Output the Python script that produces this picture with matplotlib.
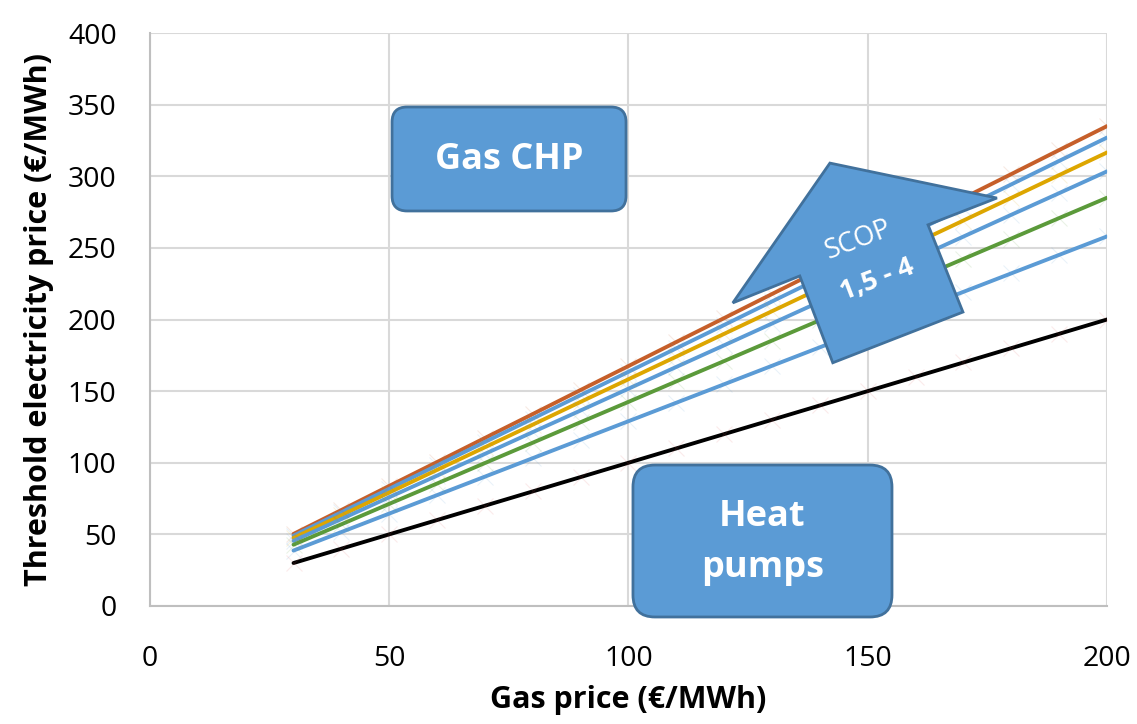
import matplotlib
matplotlib.use("Agg")
import matplotlib.pyplot as plt
from matplotlib.patches import FancyBboxPatch, Polygon

plt.rcParams['font.family'] = ['Open Sans', 'DejaVu Sans']

gas_price = [30, 40, 50, 60, 70, 80, 90, 100, 110, 120, 130, 140, 150, 160, 170, 180, 190, 200]

# threshold electricity price per series
hp_ref = [30, 40, 50, 60, 70, 80, 90, 100, 110, 120, 130, 140, 150, 160, 170, 180, 190, 200]
scop_a = [38.7, 51.6, 64.5, 77.4, 90.3, 103.2, 116.1, 129.0, 141.9, 154.8, 167.7, 180.6, 193.5, 206.4, 219.3, 232.2, 245.1, 258.0]
scop_b = [42.8, 57.0, 71.3, 85.5, 99.8, 114.0, 128.3, 142.5, 156.8, 171.0, 185.3, 199.5, 213.8, 228.0, 242.3, 256.5, 270.8, 285.0]
scop_c = [45.5, 60.7, 75.9, 91.0, 106.2, 121.4, 136.5, 151.7, 166.9, 182.0, 197.2, 212.4, 227.6, 242.7, 257.9, 273.1, 288.2, 303.4]
scop_d = [47.5, 63.3, 79.2, 95.0, 110.8, 126.6, 142.5, 158.3, 174.1, 190.0, 205.8, 221.6, 237.5, 253.3, 269.1, 284.9, 300.8, 316.6]
scop_e = [49.1, 65.4, 81.8, 98.1, 114.5, 130.8, 147.2, 163.5, 179.9, 196.2, 212.6, 228.9, 245.3, 261.6, 278.0, 294.3, 310.7, 327.0]
scop_f = [50.3, 67.0, 83.8, 100.5, 117.3, 134.0, 150.8, 167.5, 184.3, 201.0, 217.8, 234.5, 251.3, 268.0, 284.8, 301.5, 318.3, 335.0]

series = [scop_f, scop_e, scop_d, scop_c, scop_b, scop_a, hp_ref]
colors = ['#C65F2A', '#5B9BD5', '#DDA600', '#5B9BD5', '#5B9A3A', '#5B9BD5', '#000000']
marker_colors = ['#C65F2A', '#5B9BD5', '#DDA600', '#5B9BD5', '#5B9A3A', '#5B9BD5', '#E06060']

fig = plt.figure(figsize=(11.37, 7.24), dpi=100)
ax = fig.add_axes([0.1319, 0.1630, 0.8417, 0.7914])

for vals, c, mc in zip(series, colors, marker_colors):
    ax.plot(gas_price, vals, color=c, lw=2.8, zorder=3, solid_capstyle='round')
    ax.plot(gas_price, vals, ls='none', marker='x', ms=11, mew=0.8, color=mc, alpha=0.13, zorder=4)

ax.set_xlim(0, 200)
ax.set_ylim(0, 400)
ax.set_xticks(range(0, 201, 50))
ax.set_yticks(range(0, 401, 50))
ax.grid(True, color='#D9D9D9', lw=1.5)
ax.set_axisbelow(True)
ax.tick_params(length=0, labelsize=20.5, colors='black')
ax.tick_params(axis='x', pad=28)
ax.tick_params(axis='y', pad=24)
for s in ['top', 'right']:
    ax.spines[s].set_visible(False)
for s in ['left', 'bottom']:
    ax.spines[s].set_color('#BFBFBF')
    ax.spines[s].set_linewidth(1.5)

ax.set_xlabel('Gas price (€/MWh)', fontsize=22, fontweight='bold', labelpad=9)
ax.set_ylabel('Threshold electricity price (€/MWh)', fontsize=22, fontweight='bold', labelpad=10)

fill = '#5B9BD5'
edge = '#41719C'
asp = 1137 / 724

box1 = FancyBboxPatch((0.3448 + 0.0132, 0.7086 + 0.0132 * asp), 0.2058 - 0.0264, 0.1436 - 0.0264 * asp,
                      boxstyle='round,pad=0.0132,rounding_size=0.0132', mutation_aspect=asp,
                      transform=fig.transFigure, fc=fill, ec=edge, lw=2, zorder=10)
fig.patches.append(box1)
fig.text(0.3448 + 0.1029, 0.7086 + 0.0700, 'Gas CHP', color='white', fontsize=26,
         fontweight='bold', ha='center', va='center', zorder=11)

box2 = FancyBboxPatch((0.5567 + 0.0193, 0.1478 + 0.0193 * asp), 0.2278 - 0.0386, 0.2099 - 0.0386 * asp,
                      boxstyle='round,pad=0.0193,rounding_size=0.0193', mutation_aspect=asp,
                      transform=fig.transFigure, fc=fill, ec=edge, lw=2, zorder=10)
fig.patches.append(box2)
fig.text(0.5567 + 0.1139, 0.1478 + 0.1030, 'Heat\npumps', color='white', fontsize=26,
         fontweight='bold', ha='center', va='center', linespacing=1.55, zorder=11)

arrow = Polygon([(142.1, 309.2), (177.0, 284.8), (162.6, 266.1), (169.9, 205.2),
                 (142.7, 169.8), (135.8, 230.4), (121.8, 211.6)],
                closed=True, fc=fill, ec=edge, lw=2, zorder=8, clip_on=False)
ax.add_patch(arrow)
ax.text(148.0, 255.5, 'SCOP', color='white', fontsize=19.5, rotation=21,
        ha='center', va='center', zorder=9)
ax.text(152.0, 228.0, '1,5 - 4', color='white', fontsize=19.5, fontweight='bold', rotation=21,
        ha='center', va='center', zorder=9)

fig.savefig('out.png', dpi=100)
